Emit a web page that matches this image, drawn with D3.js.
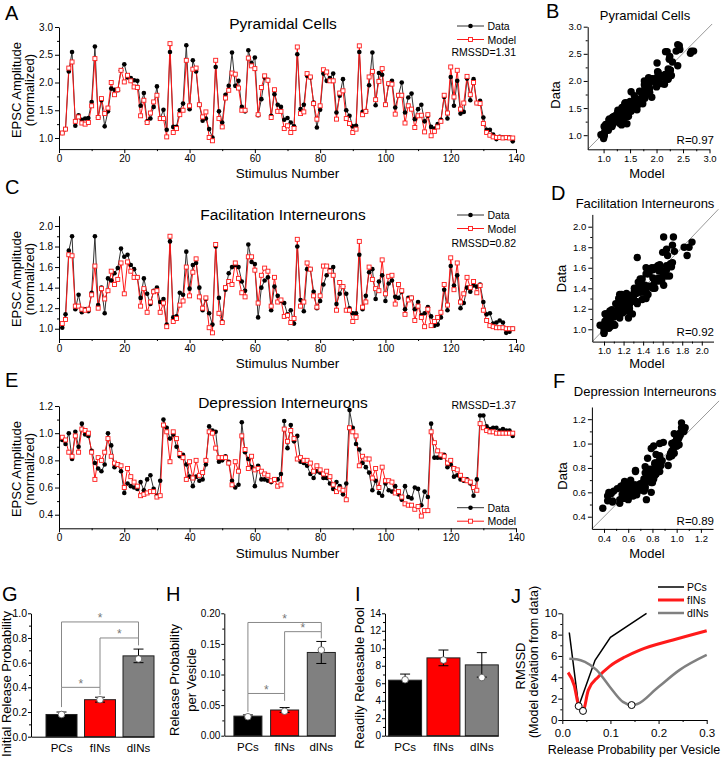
<!DOCTYPE html>
<html>
<head>
<meta charset="utf-8">
<script src="https://cdn.jsdelivr.net/npm/d3@7"></script>
<style>
  body { margin: 0; background: #fff; }
  svg { display: block; }
</style>
</head>
<body>
<div id="chart"></div>
<script>
// ---- data ----
const stimulus = d3.range(1, 140);

// A: pyramidal cells (normalized EPSC amplitude)
const pcData = [1.09,1.16,2.20,2.55,1.22,1.41,1.33,1.35,1.36,1.65, 2.65,1.37,1.68,1.21,1.48,1.89,1.87,1.86,2.22,2.33,
  2.09,2.08,2.04,2.03,1.58,1.81,1.30,1.35,1.56,1.93, 1.35,1.51,1.15,2.55,1.20,1.20,1.50,1.62,2.67,1.52,
  2.40,2.20,1.60,1.31,1.35,1.16,1.01,2.28,1.48,1.28, 1.78,1.94,2.54,1.94,2.03,1.56,1.48,2.58,2.35,2.45,
  1.41,1.70,2.09,2.05,1.40,1.79,1.60,1.56,1.33,1.36, 1.28,1.21,2.51,1.52,1.60,2.12,2.09,1.64,1.19,1.51,
  2.16,2.03,2.08,2.16,1.46,1.76,2.06,1.50,1.40,1.21, 1.22,2.55,1.47,1.48,1.95,2.54,1.59,2.17,2.14,1.60,
  1.97,2.03,1.55,1.77,2.00,1.46,1.73,1.80,1.34,1.52, 1.60,1.30,1.40,1.20,1.17,1.25,1.33,1.74,1.35,2.10,
  1.58,2.03,1.44,1.47,2.07,1.68,2.06,1.63,1.67,1.37, 1.15,1.15,1.06,0.98,1.02,1.01,1.00,1.01,0.94];
const pcModel = [1.09,1.16,2.26,2.37,1.30,1.38,1.27,1.25,1.28,1.58, 2.43,1.37,1.71,1.44,1.54,2.00,1.78,1.87,2.22,2.01,
  2.13,2.03,1.92,1.91,1.40,1.68,1.28,1.45,1.65,1.77, 1.35,1.35,1.02,2.70,1.10,1.17,1.42,1.50,2.40,1.58,
  2.24,2.26,1.60,1.38,1.47,1.01,0.95,2.40,1.35,1.20, 1.72,1.86,2.17,2.15,1.90,1.50,1.50,2.44,2.30,2.25,
  1.42,1.91,2.12,2.04,1.37,1.87,1.48,1.48,1.17,1.22, 1.10,1.17,2.64,1.44,1.47,2.16,2.10,1.62,1.34,1.58,
  2.23,2.19,2.03,2.03,1.34,1.81,1.85,1.35,1.26,1.10, 1.16,2.66,1.42,1.48,2.10,2.20,1.69,2.02,2.25,1.60,
  1.98,1.97,1.43,1.77,1.77,1.27,1.58,1.52,1.19,1.40, 1.41,1.11,1.42,1.04,1.12,1.20,1.30,1.77,1.45,2.28,
  1.74,2.22,1.52,1.63,2.11,1.78,2.00,1.63,1.62,1.26, 1.10,1.05,1.02,1.01,1.01,1.00,1.01,1.00,1.00];

// C: facilitation interneurons
const fiData = [1.01,1.14,1.76,1.90,1.19,1.33,1.16,1.19,1.17,1.35, 1.90,1.23,1.40,1.15,1.49,1.47,1.54,1.59,1.78,1.70,
  1.72,1.62,1.58,1.50,1.30,1.49,1.34,1.24,1.37,1.40, 1.26,1.29,1.04,1.85,1.11,1.12,1.35,1.33,1.75,1.39,
  1.62,1.64,1.40,1.18,1.29,1.15,1.04,1.80,1.30,1.07, 1.38,1.54,1.60,1.62,1.60,1.46,1.37,1.82,1.65,1.63,
  1.11,1.40,1.47,1.50,1.18,1.41,1.32,1.27,1.25,1.14, 1.18,1.05,1.80,1.28,1.17,1.58,1.58,1.36,1.20,1.27,
  1.43,1.52,1.57,1.60,1.24,1.34,1.41,1.34,1.20,1.15, 1.15,1.72,1.19,1.32,1.55,1.58,1.29,1.46,1.52,1.27,
  1.44,1.47,1.31,1.30,1.36,1.19,1.30,1.30,1.19,1.26, 1.13,1.15,1.21,1.12,1.03,1.04,1.11,1.38,1.18,1.61,
  1.42,1.52,1.20,1.25,1.40,1.36,1.42,1.41,1.43,1.26, 1.14,1.15,1.05,1.06,1.08,1.06,0.96,0.97,1.00];
const fiModel = [1.05,1.09,1.72,1.71,1.22,1.22,1.19,1.18,1.19,1.33, 1.61,1.20,1.39,1.29,1.37,1.56,1.43,1.48,1.64,1.34,
  1.65,1.56,1.50,1.50,1.22,1.39,1.16,1.26,1.36,1.37, 1.16,1.25,1.02,1.90,1.07,1.10,1.23,1.27,1.60,1.32,
  1.55,1.68,1.31,1.20,1.30,1.01,0.96,1.82,1.15,1.06, 1.40,1.46,1.43,1.64,1.49,1.35,1.31,1.70,1.70,1.57,
  1.25,1.52,1.59,1.56,1.22,1.50,1.26,1.28,1.12,1.13, 1.06,1.10,1.87,1.22,1.26,1.64,1.58,1.32,1.21,1.32,
  1.61,1.61,1.56,1.52,1.18,1.45,1.41,1.18,1.18,1.07, 1.11,1.85,1.21,1.26,1.60,1.48,1.39,1.37,1.67,1.34,
  1.51,1.52,1.24,1.43,1.37,1.14,1.28,1.30,1.08,1.22, 1.11,1.02,1.19,1.03,1.07,1.11,1.16,1.43,1.23,1.69,
  1.38,1.64,1.26,1.34,1.50,1.40,1.46,1.35,1.42,1.18, 1.08,1.03,1.02,1.01,1.01,1.01,1.00,1.00,1.00];

// E: depression interneurons
const diData = [0.95,0.92,1.00,0.81,1.01,0.90,1.07,0.99,0.98,0.87, 0.78,0.74,0.72,0.77,1.00,0.91,0.75,0.77,0.72,0.56,
  0.63,0.61,0.60,0.59,0.64,0.58,0.66,0.69,0.59,0.54, 0.65,1.10,1.04,0.96,0.99,0.90,0.83,0.84,0.77,0.68,
  0.61,0.68,0.65,0.66,0.77,1.05,1.02,1.01,0.79,0.80, 0.83,0.79,0.65,0.60,0.62,1.08,0.86,0.81,0.75,0.61,
  0.76,0.66,0.66,0.65,0.64,0.66,0.66,0.70,1.09,0.89, 1.06,0.94,0.98,0.79,0.78,0.76,0.70,0.67,0.72,0.71,
  0.67,0.67,0.63,0.59,0.64,0.61,0.55,0.63,1.17,1.04, 0.92,0.88,0.78,0.75,0.71,0.58,0.65,0.56,0.54,0.63,
  0.58,0.57,0.61,0.55,0.51,0.61,0.53,0.52,0.60,0.59, 0.47,0.57,0.53,1.07,0.82,0.82,0.82,0.84,0.75,0.77,
  0.68,0.69,0.66,0.65,0.66,0.63,0.54,0.66,1.13,1.13, 1.05,1.03,1.04,1.04,1.02,1.03,1.02,1.02,0.98];
const diModel = [0.97,0.95,0.86,0.83,0.98,0.86,1.03,1.02,1.00,0.86, 0.66,0.82,0.80,0.86,0.96,0.83,0.78,0.77,0.76,0.60,
  0.74,0.68,0.64,0.61,0.54,0.55,0.56,0.57,0.57,0.53, 0.54,1.06,1.01,0.79,1.01,0.96,0.85,0.82,0.66,0.79,
  0.67,0.80,0.69,0.71,0.80,1.01,1.00,0.89,0.82,0.82, 0.82,0.78,0.62,0.79,0.72,0.98,0.88,0.74,0.83,0.73,
  0.74,0.72,0.70,0.69,0.65,0.66,0.61,0.62,1.03,0.94, 1.02,0.96,0.81,0.82,0.80,0.80,0.78,0.72,0.76,0.73,
  0.70,0.72,0.68,0.62,0.57,0.59,0.58,0.51,1.04,1.01, 0.98,0.76,0.83,0.81,0.81,0.67,0.74,0.60,0.75,0.65,
  0.65,0.64,0.56,0.57,0.53,0.48,0.47,0.47,0.44,0.46, 0.39,0.43,0.43,1.01,0.93,0.87,0.84,0.83,0.78,0.80,
  0.74,0.73,0.69,0.66,0.65,0.64,0.60,0.58,1.07,1.04, 1.02,1.01,1.01,1.00,1.00,1.00,1.00,1.00,1.00];

const rmssd = ["RMSSD=1.31", "RMSSD=0.82", "RMSSD=1.37"];
const corr = ["R=0.97", "R=0.92", "R=0.89"];

// G-I: fitted parameters per cell type
const cellTypes = ["PCs", "fINs", "dINs"];
const initRelease = [0.18, 0.30, 0.655];
const initReleaseErr = [0.02, 0.02, 0.055];
const initReleaseFit = [0.18, 0.30, 0.63];
const vesicleRelease = [0.032, 0.042, 0.136];
const vesicleReleaseErr = [0.002, 0.004, 0.018];
const vesicleReleaseFit = [0.031, 0.040, 0.140];
const poolSize = [6.35, 8.9, 8.1];
const poolSizeErr = [0.7, 0.9, 1.4];
const poolSizeFit = [6.4, 8.65, 6.65];
// significance brackets: [from, to, top, left leg end, right leg end]
const initBrackets = [[0, 1, 0.40, 0.24, 0.34], [1, 2, 0.80, 0.40, 0.74], [0, 2, 0.93, 0.40, 0.80]];
const vesicleBrackets = [[0, 1, 0.069, 0.039, 0.057], [1, 2, 0.170, 0.069, 0.159], [0, 2, 0.185, 0.069, 0.170]];

// J: RMSSD as a function of release probability per vesicle
const sweepPCs = [[0.0145, 8.2], [0.034, 1.3], [0.068, 5.6], [0.1, 7.75], [0.175, 10]];
const sweepFINs = [[0.012, 4.45], [0.025, 3.2], [0.033, 1.5], [0.043, 0.85], [0.054, 2.8], [0.075, 4.05],
  [0.099, 5.05], [0.13, 5.9], [0.161, 6.55], [0.23, 7.5], [0.3, 8.37]];
const sweepDINs = [[0.0145, 5.75], [0.03, 5.7], [0.047, 5.45], [0.071, 4.7], [0.099, 3.1], [0.126, 1.7],
  [0.144, 1.4], [0.156, 1.5], [0.196, 2.95], [0.244, 4.7], [0.3, 6.1]];
const sweepMinima = [[0.034, 1.3], [0.043, 0.85], [0.144, 1.4]];

// ---- drawing ----
const FONT = "'Liberation Sans', Arial, Helvetica, sans-serif";
const RED = "#ff1a1a";

const svg = d3.select("#chart").append("svg")
  .attr("width", 725).attr("height", 764)
  .attr("font-family", FONT);
svg.append("rect").attr("width", 725).attr("height", 764).attr("fill", "#fff");

const text = (g, s, x, y, size, anchor = "start", rotate = false) => {
  const t = g.append("text").text(s).attr("font-size", size).attr("text-anchor", anchor).attr("fill", "#000");
  if (rotate) t.attr("transform", `translate(${x},${y}) rotate(-90)`);
  else t.attr("x", x).attr("y", y);
  return t;
};

// major axis with labels + minor ticks without
const axis = (g, orient, scale, major, minor, fmt, size, at, opts = {}) => {
  const mk = orient === "bottom" ? d3.axisBottom : d3.axisLeft;
  const tr = orient === "bottom" ? `translate(0,${at})` : `translate(${at},0)`;
  if (minor.length) {
    g.append("g").attr("transform", tr)
      .call(mk(scale).tickValues(minor).tickSize(2).tickFormat(""))
      .call(a => a.select(".domain").remove())
      .selectAll("line").attr("stroke", "#000");
  }
  const a = g.append("g").attr("transform", tr)
    .call(mk(scale).tickValues(major).tickSize(opts.tick ?? 4).tickSizeOuter(0)
      .tickPadding(opts.pad ?? 2).tickFormat(fmt));
  a.attr("font-family", FONT).attr("font-size", size);
  a.selectAll("path, line").attr("stroke", "#000");
  a.selectAll("text").attr("fill", "#000");
  return a;
};

const x = d3.scaleLinear().domain([0, 140]).range([59, 516]);

const seriesPanels = [
  { data: pcData, model: pcModel, dom: [0.8, 3.0], rng: [149.1, 27], ticks: [1.0, 1.5, 2.0, 2.5, 3.0],
    minor: [1.25, 1.75, 2.25, 2.75], title: "Pyramidal Cells", titleY: 28.5, letter: "A", letterY: 19.5,
    legY: 26, rmssdY: 56, labY: 90, xLabY: 177.5 },
  { data: fiData, model: fiModel, dom: [0.9, 2.1], rng: [339, 215.7], ticks: [1.0, 1.2, 1.4, 1.6, 1.8, 2.0],
    minor: [1.1, 1.3, 1.5, 1.7, 1.9], title: "Facilitation Interneurons", titleY: 219.5, letter: "C", letterY: 194,
    legY: 215, rmssdY: 246.5, labY: 279, xLabY: 367.5 },
  { data: diData, model: diModel, dom: [0.3, 1.2], rng: [528.3, 406], ticks: [0.4, 0.6, 0.8, 1.0, 1.2],
    minor: [0.5, 0.7, 0.9, 1.1], title: "Depression Interneurons", titleY: 407.5, letter: "E", letterY: 387,
    legY: 507.7, rmssdY: 409, labY: 469, xLabY: 557.5 }
];

seriesPanels.forEach((p, k) => {
  const g = svg.append("g");
  const y = d3.scaleLinear().domain(p.dom).range(p.rng);
  const bottom = p.rng[0];
  axis(g, "bottom", x, d3.range(0, 141, 20), d3.range(10, 140, 20), d3.format("d"), 10, bottom);
  axis(g, "left", y, p.ticks, p.minor, d3.format(".1f"), 10, 59);

  const line = vals => d3.line().x((d, i) => x(stimulus[i])).y(d => y(d))(vals);
  g.append("path").attr("d", line(p.data)).attr("fill", "none").attr("stroke", "#333").attr("stroke-width", 1);
  g.append("path").attr("d", line(p.model)).attr("fill", "none").attr("stroke", RED).attr("stroke-width", 1);
  g.selectAll(".dot").data(p.data).join("circle")
    .attr("cx", (d, i) => x(stimulus[i])).attr("cy", d => y(d)).attr("r", 2.3).attr("fill", "#000");
  g.selectAll(".sq").data(p.model).join("rect")
    .attr("x", (d, i) => x(stimulus[i]) - 2).attr("y", d => y(d) - 2)
    .attr("width", 4).attr("height", 4).attr("fill", "#fff").attr("stroke", RED).attr("stroke-width", 0.9);

  // legend
  const lg = g.append("g");
  [[0, "#333", "Data"], [1, RED, "Model"]].forEach(([j, c, s]) => {
    const ly = p.legY + j * 13.5;
    lg.append("line").attr("x1", 457).attr("x2", 484).attr("y1", ly).attr("y2", ly).attr("stroke", c);
    if (j === 0) lg.append("circle").attr("cx", 470.5).attr("cy", ly).attr("r", 2.3).attr("fill", "#000");
    else lg.append("rect").attr("x", 468.5).attr("y", ly - 2).attr("width", 4).attr("height", 4)
      .attr("fill", "#fff").attr("stroke", RED).attr("stroke-width", 0.9);
    text(lg, s, 487.5, ly + 4, 10.5);
  });
  text(g, rmssd[k], 516, p.rmssdY, 10.5, "end");

  text(g, p.title, 283, p.titleY, 15.5, "middle");
  text(g, p.letter, 5, p.letterY, 20);
  text(g, "EPSC Amplitude", 21, p.labY, 13, "middle", true);
  text(g, "(normalized)", 34, p.labY, 13, "middle", true);
  text(g, "Stimulus Number", 287.5, p.xLabY, 13.5, "middle");
});

// scatter panels: model on x, data on y
const scatterPanels = [
  { data: pcData, model: pcModel, xd: [0.7, 3.0], xr: [587.7, 709.5], yd: [0.74, 3.0], yr: [149.3, 26.7],
    ticks: [1.0, 1.5, 2.0, 2.5, 3.0], minor: [1.25, 1.75, 2.25, 2.75], title: "Pyramidal Cells", titleY: 20,
    letter: "B", lx: 546, ly: 18, dataX: 560, dataY: 95, modelY: 177.5, rY: 143.5 },
  { data: fiData, model: fiModel, xd: [0.88, 2.12], xr: [592.3, 713.5], yd: [0.88, 2.12], yr: [341.6, 214.4],
    ticks: [1.0, 1.2, 1.4, 1.6, 1.8, 2.0], minor: [1.1, 1.3, 1.5, 1.7, 1.9], title: "Facilitation Interneurons",
    titleY: 207.5, letter: "D", lx: 551, ly: 200, dataX: 566, dataY: 278.5, modelY: 367.5, rY: 336 },
  { data: diData, model: diModel, xd: [0.3, 1.3], xr: [591.9, 713], yd: [0.3, 1.3], yr: [528.9, 407],
    ticks: [0.4, 0.6, 0.8, 1.0, 1.2], minor: [0.5, 0.7, 0.9, 1.1], title: "Depression Interneurons",
    titleY: 396, letter: "F", lx: 553, ly: 388, dataX: 566.5, dataY: 476, modelY: 557.5, rY: 525 }
];

scatterPanels.forEach((p, k) => {
  const g = svg.append("g");
  const sx = d3.scaleLinear().domain(p.xd).range(p.xr);
  const sy = d3.scaleLinear().domain(p.yd).range(p.yr);
  const hi = Math.min(p.xd[1], p.yd[1]) + 0.05;
  g.append("line").attr("x1", sx(p.xd[0])).attr("y1", sy(p.xd[0]) > p.yr[0] ? p.yr[0] : sy(p.xd[0]))
    .attr("x2", sx(hi)).attr("y2", sy(hi)).attr("stroke", "#999").attr("stroke-width", 1);
  axis(g, "bottom", sx, p.ticks, p.minor, d3.format(".1f"), 9.5, p.yr[0]);
  axis(g, "left", sy, p.ticks, p.minor, d3.format(".1f"), 9.5, p.xr[0]);
  g.selectAll(".pt").data(p.data).join("circle")
    .attr("cx", (d, i) => sx(p.model[i])).attr("cy", d => sy(d)).attr("r", 3.7).attr("fill", "#000");
  text(g, p.title, 645, p.titleY, 13, "middle");
  text(g, p.letter, p.lx, p.ly, 20);
  text(g, "Data", p.dataX, p.dataY, 13, "middle", true);
  text(g, "Model", 647, p.modelY, 13, "middle");
  text(g, corr[k], 714, p.rY, 11.5, "end");
});

// bar panels
const barColors = ["#000", "#ff0000", "#808080"];
const barPanels = [
  { vals: initRelease, err: initReleaseErr, fit: initReleaseFit, br: initBrackets, yd: [0, 1], yr: [736.7, 613.3],
    left: 31, right: 154, pi: 0.195, po: 0.195, ticks: d3.range(0, 1.01, 0.2), minor: d3.range(0.1, 1, 0.2),
    fmt: d3.format(".1f"), tsize: 10.5, letter: "G", lx: 2,
    labels: [["Initial Release Probability", 11, 684]] },
  { vals: vesicleRelease, err: vesicleReleaseErr, fit: vesicleReleaseFit, br: vesicleBrackets, yd: [0, 0.2],
    yr: [735.7, 613.3], left: 224.3, right: 335.3, pi: 0.237, po: 0.131, ticks: d3.range(0, 0.201, 0.05),
    minor: d3.range(0.025, 0.2, 0.05), fmt: d3.format(".2f"), tsize: 10, letter: "H", lx: 166,
    labels: [["Release Probability", 179, 680], ["per Vesicle", 196, 680]] },
  { vals: poolSize, err: poolSizeErr, fit: poolSizeFit, br: [], yd: [0, 14], yr: [735.7, 613.3],
    left: 385, right: 498.3, pi: 0.14, po: 0.047, ticks: d3.range(0, 15, 2), minor: d3.range(1, 14, 2),
    fmt: d3.format("d"), tsize: 10, letter: "I", lx: 355,
    labels: [["Readily Releasable Pool", 364, 678]] }
];

barPanels.forEach(p => {
  const g = svg.append("g");
  const bx = d3.scaleBand().domain(cellTypes).range([p.left, p.right])
    .paddingInner(p.pi).paddingOuter(p.po).align(1);
  const by = d3.scaleLinear().domain(p.yd).range(p.yr);
  const cx = i => bx(cellTypes[i]) + bx.bandwidth() / 2;

  g.selectAll(".bar").data(p.vals).join("rect")
    .attr("x", (d, i) => bx(cellTypes[i])).attr("width", bx.bandwidth())
    .attr("y", d => by(d)).attr("height", d => by(p.yd[0]) - by(d))
    .attr("fill", (d, i) => barColors[i]).attr("stroke", "#222").attr("stroke-width", 1);
  p.vals.forEach((v, i) => {
    const lo = by(v - p.err[i]), hi = by(v + p.err[i]);
    g.append("path").attr("d", `M${cx(i)},${lo}V${hi}M${cx(i) - 5},${hi}H${cx(i) + 5}M${cx(i) - 5},${lo}H${cx(i) + 5}`)
      .attr("stroke", "#000").attr("stroke-width", 1).attr("fill", "none");
  });
  g.selectAll(".fit").data(p.fit).join("circle")
    .attr("cx", (d, i) => cx(i)).attr("cy", d => by(d)).attr("r", 3.3)
    .attr("fill", "#fff").attr("stroke", "#555").attr("stroke-width", 0.8);

  p.br.forEach(([a, b, top, la, lb]) => {
    g.append("path").attr("d", `M${cx(a)},${by(la)}V${by(top)}H${cx(b)}V${by(lb)}`)
      .attr("fill", "none").attr("stroke", "#888").attr("stroke-width", 1);
    text(g, "*", (cx(a) + cx(b)) / 2, by(top) + 0.5, 12, "middle").attr("fill", "#777");
  });

  axis(g, "left", by, p.ticks, p.minor, p.fmt, p.tsize, p.left, { tick: 3, pad: 1 });
  const xa = g.append("g").attr("transform", `translate(0,${p.yr[0]})`)
    .call(d3.axisBottom(bx).tickSize(0).tickSizeOuter(0).tickPadding(7));
  xa.attr("font-family", FONT).attr("font-size", 11.5);
  xa.select(".domain").attr("stroke", "#000");
  xa.selectAll("text").attr("fill", "#000");

  text(g, p.letter, p.lx, 601, 20);
  p.labels.forEach(([s, lx, ly]) => text(g, s, lx, ly, 13, "middle", true));
});

// J: sweep of release probability
{
  const g = svg.append("g");
  const jx = d3.scaleLinear().domain([0, 0.3]).range([562.3, 706.7]);
  const jy = d3.scaleLinear().domain([0, 10]).range([720, 613.3]);
  axis(g, "bottom", jx, [0, 0.1, 0.2, 0.3], [0.05, 0.15, 0.25], d3.format(".1f"), 11.5, 720, { pad: 5 });
  axis(g, "left", jy, d3.range(0, 11, 2), d3.range(1, 10, 2), d3.format("d"), 11.5, 562.3, { pad: 1 });

  const sweeps = [[sweepPCs, "#000", 1.5, d3.curveLinear, "PCs"], [sweepFINs, RED, 3, d3.curveMonotoneX, "fINs"],
    [sweepDINs, "#808080", 2.5, d3.curveMonotoneX, "dINs"]];
  sweeps.forEach(([pts, c, w, curve, name], i) => {
    g.append("path").attr("d", d3.line().x(d => jx(d[0])).y(d => jy(d[1])).curve(curve)(pts))
      .attr("fill", "none").attr("stroke", c).attr("stroke-width", w);
    const ly = 587 + i * 13;
    g.append("line").attr("x1", 658).attr("x2", 684).attr("y1", ly).attr("y2", ly)
      .attr("stroke", c).attr("stroke-width", w);
    text(g, name, 687, ly + 4, 10.5);
  });
  g.selectAll(".min").data(sweepMinima).join("circle")
    .attr("cx", d => jx(d[0])).attr("cy", d => jy(d[1])).attr("r", 3.5)
    .attr("fill", "#fff").attr("stroke", "#000").attr("stroke-width", 1);

  text(g, "J", 511, 603, 20);
  text(g, "RMSSD", 525, 666, 13, "middle", true);
  text(g, "(Model deviation from data)", 538, 662, 12.5, "middle", true);
  text(g, "Release Probability per Vesicle", 634, 754, 12.5, "middle");
}
</script>
</body>
</html>
